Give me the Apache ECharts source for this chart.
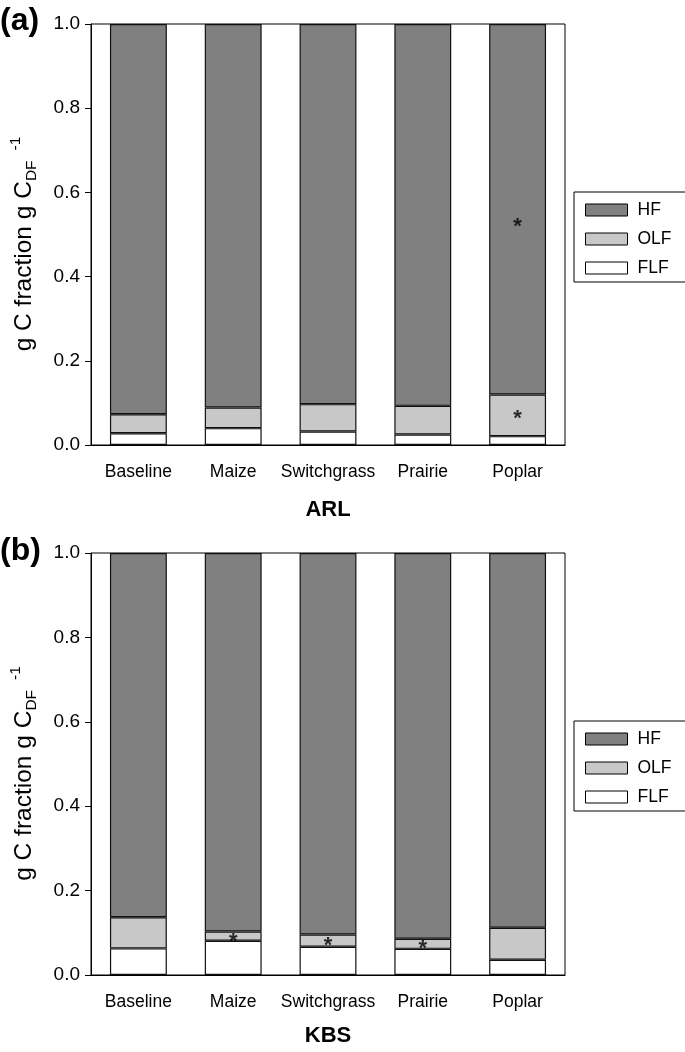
<!DOCTYPE html>
<html>
<head>
<meta charset="utf-8">
<script src="https://cdn.jsdelivr.net/npm/echarts@6/dist/echarts.min.js"></script>
<style>
html,body{margin:0;padding:0;background:#fff;}
#chart{width:685px;height:1052px;}
</style>
</head>
<body>
<div id="chart"></div>
<script>
var categories = ['Baseline', 'Maize', 'Switchgrass', 'Prairie', 'Poplar'];
var yTicks = [0.0, 0.2, 0.4, 0.6, 0.8, 1.0];
var seriesNames = ['HF', 'OLF', 'FLF'];
var panelTitles = ['ARL', 'KBS'];
var panelLetters = ['(a)', '(b)'];

// Panel (a) ARL fractions
var flfA = [0.028, 0.040, 0.032, 0.025, 0.021];
var olfA = [0.045, 0.049, 0.065, 0.068, 0.099];
var hfA  = [0.927, 0.911, 0.903, 0.907, 0.880];
// Panel (b) KBS fractions
var flfB = [0.063, 0.081, 0.067, 0.062, 0.036];
var olfB = [0.074, 0.022, 0.029, 0.024, 0.076];
var hfB  = [0.863, 0.897, 0.904, 0.914, 0.888];
// significance asterisks: [category index, y value]
var starsA = [[4, 0.53], [4, 0.073]];
var starsB = [[1, 0.091], [2, 0.081], [3, 0.073]];

var colors = {HF: '#808080', OLF: '#c8c8c8', FLF: '#ffffff'};
var FONT = 'Liberation Sans, Arial, sans-serif';

var grids = [
  {left: 91, width: 474, top: 24, height: 421},
  {left: 91, width: 474, top: 553, height: 422}
];
var titleGaps = [54, 50];

function barSeries(name, data, idx) {
  return {
    name: name, type: 'bar', stack: 'p' + idx, data: data,
    xAxisIndex: idx, yAxisIndex: idx, barWidth: '60%',
    itemStyle: {color: colors[name], borderColor: '#111', borderWidth: 1.2},
    emphasis: {disabled: true}, animation: false
  };
}
function starSeries(data, idx) {
  return {
    type: 'scatter', data: data, xAxisIndex: idx, yAxisIndex: idx,
    symbolSize: 1, itemStyle: {color: 'rgba(0,0,0,0)'}, silent: true, animation: false,
    label: {show: true, formatter: '*', position: 'inside', color: '#000',
      fontSize: 22, fontWeight: 'bold', fontFamily: FONT, offset: [0, 5]}
  };
}
function xAxis(idx) {
  return {
    type: 'category', gridIndex: idx, data: categories,
    axisLine: {lineStyle: {color: '#000', width: 1}},
    axisTick: {alignWithLabel: true, length: 5, lineStyle: {color: '#000'}},
    axisLabel: {color: '#000', fontSize: 17.5, fontFamily: FONT, margin: 18, interval: 0},
    name: panelTitles[idx], nameLocation: 'middle', nameGap: titleGaps[idx],
    nameTextStyle: {color: '#000', fontSize: 22, fontWeight: 'bold', fontFamily: FONT}
  };
}
function yAxis(idx) {
  return {
    type: 'value', gridIndex: idx, min: 0, max: 1, interval: 0.2,
    axisLine: {show: true, lineStyle: {color: '#000', width: 1}},
    axisTick: {show: true, length: 6, lineStyle: {color: '#000'}},
    splitLine: {show: false},
    axisLabel: {color: '#000', fontSize: 19, fontFamily: FONT, margin: 11,
      formatter: function (v) { return v.toFixed(1); }},
    name: '{m|g C fraction g C}{s|DF}{p|-1}', nameLocation: 'middle', nameGap: 51,
    nameTextStyle: {
      color: '#000', fontFamily: FONT, padding: [0, 19, 0, 0],
      rich: {
        m: {fontSize: 24.5, fontFamily: FONT, color: '#000', lineHeight: 32},
        s: {fontSize: 15.5, fontFamily: FONT, color: '#000', lineHeight: 17, verticalAlign: 'bottom'},
        p: {fontSize: 15.5, fontFamily: FONT, color: '#000', lineHeight: 17, verticalAlign: 'top', padding: [0, 0, 0, 10]}
      }
    }
  };
}
function legend(idx, top) {
  return {
    data: seriesNames, orient: 'vertical', left: 574, top: top,
    icon: 'rect',
    itemWidth: 42, itemHeight: 12, itemGap: 11,
    padding: [9, 40, 5, 11],
    borderColor: '#000', borderWidth: 1, backgroundColor: '#fff',
    itemStyle: {borderColor: '#000', borderWidth: 1},
    textStyle: {color: '#000', fontSize: 17.5, fontFamily: FONT, padding: [0, 0, 0, 5]},
    selectedMode: false
  };
}

var option = {
  backgroundColor: '#fff',
  animation: false,
  grid: grids.map(function (g) { return Object.assign({show: true, borderColor: '#000', borderWidth: 1, backgroundColor: 'transparent'}, g); }),
  xAxis: [xAxis(0), xAxis(1)],
  yAxis: [yAxis(0), yAxis(1)],
  legend: [legend(0, 192), legend(1, 721)],
  series: [
    barSeries('FLF', flfA, 0), barSeries('OLF', olfA, 0), barSeries('HF', hfA, 0),
    barSeries('FLF', flfB, 1), barSeries('OLF', olfB, 1), barSeries('HF', hfB, 1),
    starSeries(starsA, 0), starSeries(starsB, 1)
  ],
  graphic: [
    {type: 'text', left: 0, top: 5, style: {text: panelLetters[0], fontSize: 32, fontWeight: 'bold', fontFamily: FONT, fill: '#000'}},
    {type: 'text', left: 0, top: 535, style: {text: panelLetters[1], fontSize: 32, fontWeight: 'bold', fontFamily: FONT, fill: '#000'}}
  ]
};
var chart = echarts.init(document.getElementById('chart'), null, {renderer: 'canvas'});
chart.setOption(option);
</script>
</body>
</html>
